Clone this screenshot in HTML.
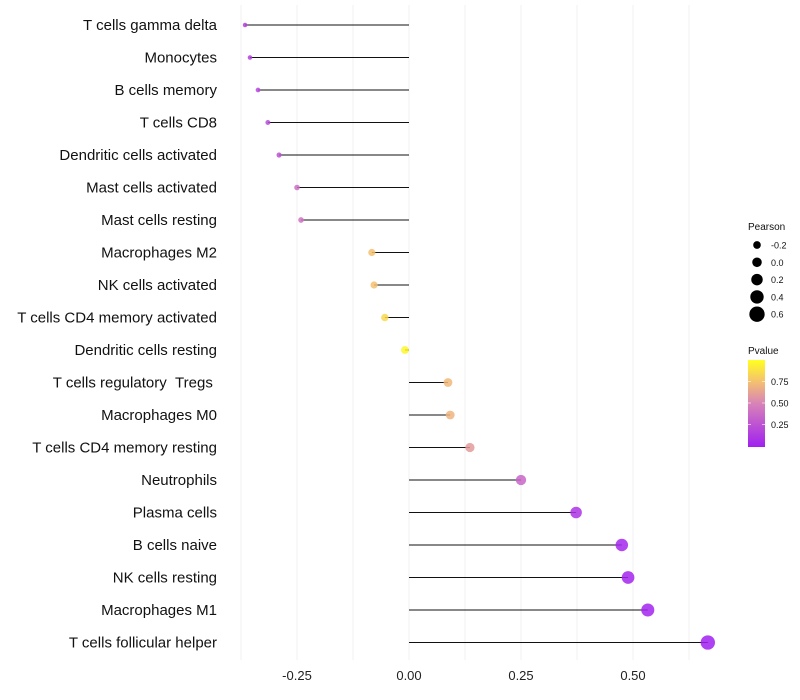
<!DOCTYPE html>
<html><head><meta charset="utf-8"><style>
body{margin:0;background:#fff;font-family:"Liberation Sans",sans-serif}
svg{display:block}
</style></head><body>
<svg id="c" width="800" height="700">
<defs><linearGradient id="pg" x1="0" y1="1" x2="0" y2="0">
<stop offset="0" stop-color="#a020f0"/><stop offset="0.5" stop-color="#d883b8"/><stop offset="0.75" stop-color="#f4c070"/><stop offset="1" stop-color="#ffff20"/></linearGradient></defs>
</svg>
<script>
const categories=["T cells gamma delta","Monocytes","B cells memory","T cells CD8","Dendritic cells activated","Mast cells activated","Mast cells resting","Macrophages M2","NK cells activated","T cells CD4 memory activated","Dendritic cells resting","T cells regulatory\u00a0\u00a0Tregs\u00a0","Macrophages M0","T cells CD4 memory resting","Neutrophils","Plasma cells","B cells naive","NK cells resting","Macrophages M1","T cells follicular helper"];
const pearson=[-0.366,-0.355,-0.337,-0.315,-0.29,-0.25,-0.241,-0.083,-0.078,-0.054,-0.009,0.087,0.092,0.136,0.25,0.373,0.475,0.489,0.533,0.667];
const pvalue=[0.15,0.15,0.2,0.22,0.25,0.4,0.42,0.75,0.75,0.85,0.97,0.72,0.7,0.6,0.35,0.1,0.04,0.03,0.02,0.002];
const xTicks=[-0.25,0,0.25,0.5];
const xTickLabels=["-0.25","0.00","0.25","0.50"];
const sizeLegend=[-0.2,0,0.2,0.4,0.6];
const pLegend=[0.25,0.5,0.75];
const svg=document.getElementById('c');const NS="http://www.w3.org/2000/svg";
const X=v=>409+v*448;
const Y=i=>25+i*32.5;
const R=v=>2.2+(v+0.37)*4.8;
const PY=p=>446-p*86;
function col(p){const st=[[0,[160,32,240]],[0.5,[216,131,184]],[0.75,[244,192,112]],[1,[255,255,32]]];
for(let k=1;k<st.length;k++){if(p<=st[k][0]){const a=st[k-1],b=st[k],t=(p-a[0])/(b[0]-a[0]);return "rgb("+a[1].map((c,j)=>Math.round(c+(b[1][j]-c)*t)).join(",")+")";}}return "rgb(255,255,32)";}
function mk(t,a,p){const e=document.createElementNS(NS,t);for(const k in a)e.setAttribute(k,a[k]);(p||svg).appendChild(e);return e;}
for(let v=-0.375;v<=0.7;v+=0.125){const g=mk('line',{x1:X(v),x2:X(v),y1:5,y2:660,stroke:'#f0f0f0','stroke-width':1});

}
xTicks.forEach((v,i)=>{const t=mk('text',{x:X(v),y:680,'text-anchor':'middle','font-size':13,fill:'#222'});t.textContent=xTickLabels[i];

});
categories.forEach((c,i)=>{const y=Y(i);
const t=mk('text',{x:217,y:y+5,'text-anchor':'end','font-size':15,fill:'#111'});t.textContent=c;


const l=mk('line',{x1:X(0),x2:X(pearson[i]),y1:y,y2:y,stroke:'#111','stroke-width':1.1});


const d=mk('circle',{cx:X(pearson[i]),cy:y,r:R(pearson[i]),fill:col(pvalue[i]),'fill-opacity':0.85});

});
const lt=mk('text',{x:748,y:230,'font-size':10,fill:'#111'});lt.textContent="Pearson";


sizeLegend.forEach((v,i)=>{const y=245+i*17.3;
const c=mk('circle',{cx:757,cy:y,r:R(v)+0.8,fill:'#000'});


const t=mk('text',{x:771,y:y+3.5,'font-size':9,fill:'#111'});t.textContent=v.toFixed(1);

});
const pt=mk('text',{x:748,y:354,'font-size':10,fill:'#111'});pt.textContent="Pvalue";


const bar=mk('rect',{x:748,y:360,width:17,height:87,fill:'url(#pg)'});


pLegend.forEach(p=>{const t=mk('text',{x:771,y:PY(p)+3.5,'font-size':9,fill:'#111'});t.textContent=p.toFixed(2);


mk('line',{x1:748,x2:751,y1:PY(p),y2:PY(p),stroke:'#fff','stroke-opacity':0.6});
mk('line',{x1:762,x2:765,y1:PY(p),y2:PY(p),stroke:'#fff','stroke-opacity':0.6});});
</script>
</body></html>
